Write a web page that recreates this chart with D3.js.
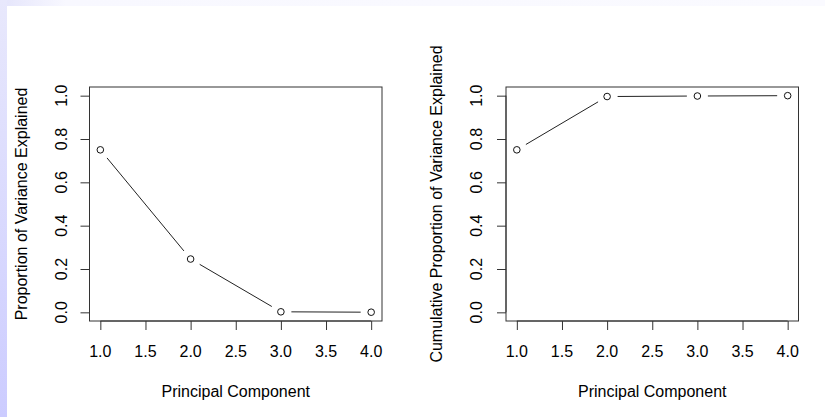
<!DOCTYPE html>
<html>
<head>
<meta charset="utf-8">
<script src="https://cdn.jsdelivr.net/npm/d3@7"></script>
<style>
  html, body { margin: 0; padding: 0; background: #fff; }
  svg { display: block; }
  text { font-family: Arial, "Liberation Sans", sans-serif; fill: #000; }
</style>
</head>
<body>
<svg id="chart" width="825" height="417"></svg>
<script>
// Principal components and their explained variance
const components = [1, 2, 3, 4];
const proportion = [0.75, 0.246, 0.0024, 0.0006];
const cumulative = [0.75, 0.996, 0.9984, 1.0];
const xTicks = [1.0, 1.5, 2.0, 2.5, 3.0, 3.5, 4.0];
const yTicks = [0.0, 0.2, 0.4, 0.6, 0.8, 1.0];

const xLabel = "Principal Component";
const yLabels = ["Proportion of Variance Explained", "Cumulative Proportion of Variance Explained"];

const svg = d3.select("#chart");

// page frame: lavender strips along the left and top edges
const defs = svg.append("defs");
const gLeft = defs.append("linearGradient").attr("id", "edgeLeft")
  .attr("x1", 0).attr("y1", 0).attr("x2", 0).attr("y2", 1);
gLeft.append("stop").attr("offset", 0).attr("stop-color", "#e8e8fc");
gLeft.append("stop").attr("offset", 1).attr("stop-color", "#ccccff");
const gTop = defs.append("linearGradient").attr("id", "edgeTop")
  .attr("x1", 0).attr("y1", 0).attr("x2", 1).attr("y2", 0);
gTop.append("stop").attr("offset", 0).attr("stop-color", "#e4e4fb");
gTop.append("stop").attr("offset", 0.08).attr("stop-color", "#f8f8ff");
gTop.append("stop").attr("offset", 1).attr("stop-color", "#fafaff");
svg.append("rect").attr("x", 0).attr("y", 0).attr("width", 825).attr("height", 6)
  .attr("fill", "url(#edgeTop)");
svg.append("rect").attr("x", 0).attr("y", 0).attr("width", 7).attr("height", 417)
  .attr("fill", "url(#edgeLeft)");

const panels = [
  { left: 89.5, values: proportion, ylab: yLabels[0], tickBase: 67, labBase: 27 },
  { left: 506, values: cumulative, ylab: yLabels[1], tickBase: 482, labBase: 442 }
];
const plotTop = 87, plotBottom = 321, boxW = 292.5;
const tickLen = 9, gap = 10.5, radius = 3.3;

panels.forEach(p => {
  const g = svg.append("g");
  const x = d3.scaleLinear().domain([0.88, 4.12]).range([p.left, p.left + boxW]);
  const y = d3.scaleLinear().domain([-0.04, 1.04]).range([plotBottom, plotTop]);

  // plot box
  g.append("rect")
    .attr("x", p.left).attr("y", plotTop)
    .attr("width", boxW).attr("height", plotBottom - plotTop)
    .attr("fill", "none").attr("stroke", "#333").attr("stroke-width", 1);

  // x axis
  const xAxis = g.append("g").attr("transform", `translate(0,${plotBottom})`)
    .call(d3.axisBottom(x).tickValues(xTicks).tickSize(tickLen).tickFormat(d3.format(".1f")));
  xAxis.select(".domain").attr("stroke", "#333")
    .attr("d", `M${x(xTicks[0])},0H${x(xTicks[xTicks.length - 1])}`);
  xAxis.selectAll(".tick line").attr("stroke", "#333");
  xAxis.selectAll(".tick text").remove();
  xTicks.forEach(v => {
    g.append("text").attr("x", x(v)).attr("y", 357)
      .attr("text-anchor", "middle").attr("font-size", 16)
      .text(d3.format(".1f")(v));
  });

  // y axis
  const yAxis = g.append("g").attr("transform", `translate(${p.left},0)`)
    .call(d3.axisLeft(y).tickValues(yTicks).tickSize(tickLen));
  yAxis.select(".domain").attr("stroke", "#333")
    .attr("d", `M0,${y(yTicks[0])}V${y(yTicks[yTicks.length - 1])}`);
  yAxis.selectAll(".tick line").attr("stroke", "#333");
  yAxis.selectAll(".tick text").remove();
  yTicks.forEach(v => {
    g.append("text")
      .attr("transform", `translate(${p.tickBase},${y(v)}) rotate(-90)`)
      .attr("text-anchor", "middle").attr("font-size", 16)
      .text(d3.format(".1f")(v));
  });

  // axis titles
  g.append("text").attr("x", p.left + boxW / 2).attr("y", 397)
    .attr("text-anchor", "middle").attr("font-size", 16).text(xLabel);
  g.append("text")
    .attr("transform", `translate(${p.labBase},${(plotTop + plotBottom) / 2}) rotate(-90)`)
    .attr("text-anchor", "middle").attr("font-size", 16).text(p.ylab);

  // connecting segments, stopping short of each point
  const pts = components.map((c, i) => [x(c), y(p.values[i])]);
  for (let i = 0; i < pts.length - 1; i++) {
    const [x0, y0] = pts[i], [x1, y1] = pts[i + 1];
    const len = Math.hypot(x1 - x0, y1 - y0);
    const ux = (x1 - x0) / len, uy = (y1 - y0) / len;
    g.append("line")
      .attr("x1", x0 + ux * gap).attr("y1", y0 + uy * gap)
      .attr("x2", x1 - ux * gap).attr("y2", y1 - uy * gap)
      .attr("stroke", "#222").attr("stroke-width", 1);
  }

  // open circle markers
  g.selectAll("circle.pt").data(pts).join("circle")
    .attr("class", "pt")
    .attr("cx", d => d[0]).attr("cy", d => d[1]).attr("r", radius)
    .attr("fill", "#fff").attr("stroke", "#111").attr("stroke-width", 1);
});
</script>
</body>
</html>
